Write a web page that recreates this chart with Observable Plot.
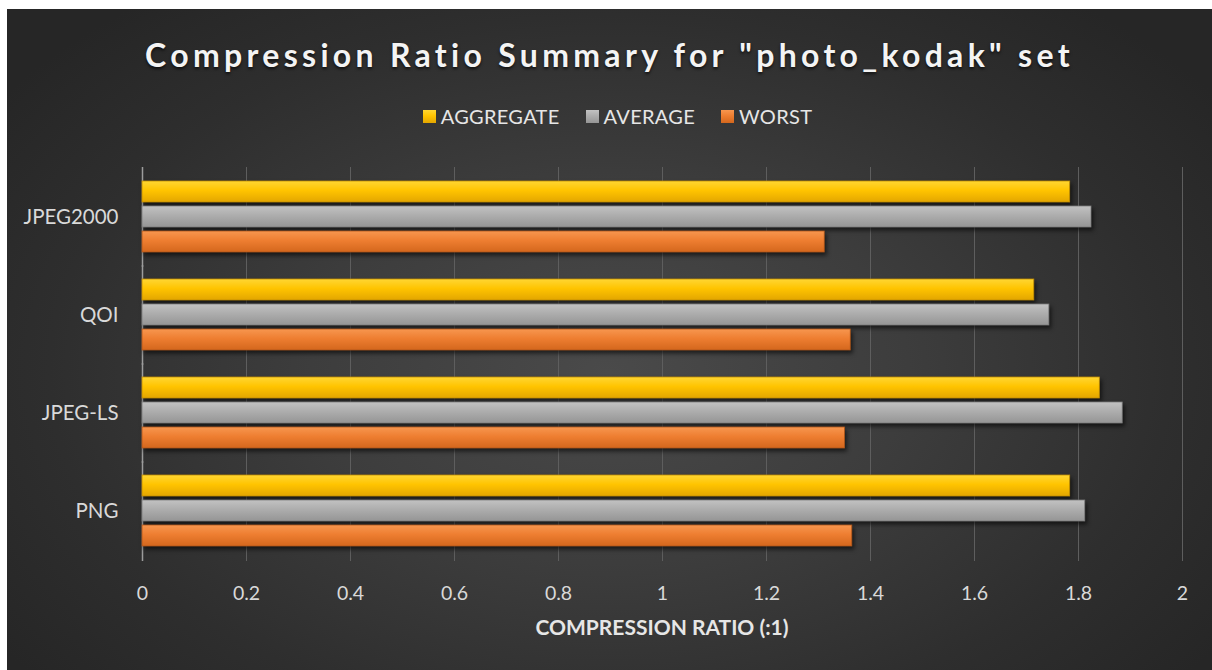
<!DOCTYPE html>
<html>
<head>
<meta charset="utf-8">
<script src="https://cdn.jsdelivr.net/npm/d3@7"></script>
<script src="https://cdn.jsdelivr.net/npm/@observablehq/plot@0.6"></script>
<style>
  body { margin: 0; background: #ffffff; font-family: Lato, "Open Sans", sans-serif; }
  #chart {
    position: absolute; left: 7px; top: 9px; width: 1205px; height: 661px; overflow: hidden;
    background: radial-gradient(ellipse 62% 72% at 50% 55%, #4a4a4a 0%, #3d3d3d 40%, #2e2e2e 75%, #262626 100%);
  }
  #title {
    position: absolute; left: 0; top: 26px; width: 100%; text-align: center;
    font-size: 32px; line-height: 40px; font-weight: bold; letter-spacing: 4.3px;
    color: #f4f4f4; text-shadow: 0 2px 3px rgba(0,0,0,0.65);
  }
  #legend {
    position: absolute; left: 8px; top: 95px; width: 100%; display: flex; justify-content: center;
    font-size: 20px; line-height: 24px; color: #e6e6e6; letter-spacing: 0.3px;
  }
  .item { display: flex; align-items: center; margin: 0 13px; }
  .sw { width: 13px; height: 13px; margin-right: 5px; }
  #plot { position: absolute; left: 0; top: 136px; }
  #xlabel {
    position: absolute; left: 135px; width: 1040px; top: 606px; text-align: center;
    font-size: 21px; line-height: 24px; font-weight: bold; color: #e6e6e6;
  }
  #plot svg g[aria-label="bar"] { filter: drop-shadow(2px 3px 2px rgba(0,0,0,0.6)); }
  #plot svg g[aria-label="fy-axis tick label"] text,
  #plot svg g[aria-label="fy-axis"] text { font-size: 20.5px; }
</style>
</head>
<body>
<div id="chart">
  <div id="title"></div>
  <div id="legend"></div>
  <div id="plot"></div>
  <div id="xlabel"></div>
</div>
<script>
const titleText = 'Compression Ratio Summary for "photo_kodak" set';
const xLabel = "COMPRESSION RATIO (:1)";
const codecs = ["JPEG2000", "QOI", "JPEG-LS", "PNG"];
const series = ["AGGREGATE", "AVERAGE", "WORST"];
const aggregate = [1.784, 1.715, 1.841, 1.784];
const average = [1.825, 1.744, 1.885, 1.813];
const worst = [1.312, 1.362, 1.351, 1.365];
const xTicks = [0, 0.2, 0.4, 0.6, 0.8, 1, 1.2, 1.4, 1.6, 1.8, 2];

const styles = {
  AGGREGATE: {id: "gAgg", stops: ["#ffd633", "#ffc400", "#e3a600"], stroke: "#c08c00"},
  AVERAGE: {id: "gAvg", stops: ["#c2c2c2", "#adadad", "#959595"], stroke: "#7c7c7c"},
  WORST: {id: "gWorst", stops: ["#f7964f", "#ee7e31", "#d4671d"], stroke: "#b0561a"}
};

const valuesBySeries = {AGGREGATE: aggregate, AVERAGE: average, WORST: worst};
const rows = codecs.flatMap((c, i) => series.map(s => ({codec: c, series: s, value: valuesBySeries[s][i]})));

document.getElementById("title").textContent = titleText;
document.getElementById("xlabel").textContent = xLabel;

const legend = document.getElementById("legend");
series.forEach(s => {
  const st = styles[s];
  const item = document.createElement("div");
  item.className = "item";
  const sw = document.createElement("div");
  sw.className = "sw";
  sw.style.background = `linear-gradient(${st.stops[0]}, ${st.stops[1]} 45%, ${st.stops[2]})`;
  const tx = document.createElement("span");
  tx.textContent = s;
  item.appendChild(sw); item.appendChild(tx);
  legend.appendChild(item);
});

const ext = -13;
const chart = Plot.plot({
  width: 1205,
  height: 505,
  marginTop: 22,
  marginBottom: 89,
  marginLeft: 135,
  marginRight: 30,
  style: {background: "transparent", color: "#d9d9d9", fontFamily: "Lato, sans-serif", fontSize: "19.5px"},
  facet: {data: rows, y: "codec"},
  fy: {domain: codecs, paddingInner: 0.245, paddingOuter: 0.122, axis: "left", label: null, tickSize: 0, tickPadding: 24},
  y: {domain: series, paddingInner: 0.15, paddingOuter: 0, axis: null},
  x: {domain: [0, 2], ticks: xTicks, tickFormat: d => String(+d.toFixed(1)), tickSize: 0, tickPadding: 38, label: null, axis: "bottom"},
  marks: [
    Plot.ruleX(xTicks.slice(1), {stroke: "#5e5e5e", strokeWidth: 1, insetTop: ext, insetBottom: ext}),
    Plot.ruleX([0], {stroke: "#9c9c9c", strokeWidth: 1.5, insetTop: ext, insetBottom: ext}),
    ...series.map(s => Plot.barX(rows, {
      filter: d => d.series === s,
      x: "value", y: "series",
      fill: `url(#${styles[s].id})`,
      stroke: styles[s].stroke, strokeWidth: 0.8
    }))
  ]
});

const svg = d3.select(chart.tagName.toLowerCase() === "svg" ? chart : chart.querySelector("svg"));
const defs = svg.insert("defs", ":first-child");
series.forEach(s => {
  const st = styles[s];
  const g = defs.append("linearGradient").attr("id", st.id).attr("x1", 0).attr("y1", 0).attr("x2", 0).attr("y2", 1);
  g.append("stop").attr("offset", "0%").attr("stop-color", st.stops[0]);
  g.append("stop").attr("offset", "45%").attr("stop-color", st.stops[1]);
  g.append("stop").attr("offset", "100%").attr("stop-color", st.stops[2]);
});

document.getElementById("plot").appendChild(chart);
</script>
</body>
</html>
